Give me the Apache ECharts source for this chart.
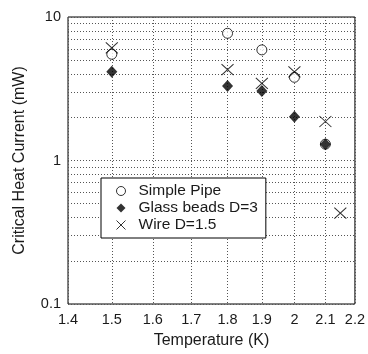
<!DOCTYPE html>
<html>
<head>
<meta charset="utf-8">
<script src="https://cdn.jsdelivr.net/npm/echarts@6/dist/echarts.min.js"></script>
<style>html,body{margin:0;padding:0;background:#fff}#c{width:368px;height:354px}</style>
</head>
<body>
<div id="c"></div>
<script>
// ---- data ----
var temperatures = [1.5, 1.8, 1.9, 2.0, 2.1];
var simplePipe = [5.5, 7.7, 5.9, 3.8, 1.3];
var glassBeads = [4.15, 3.3, 3.05, 2.02, 1.3];
var wireTemps = [1.5, 1.8, 1.9, 2.0, 2.1, 2.15];
var wire = [6.1, 4.3, 3.45, 4.15, 1.87, 0.43];
var xTicks = [1.4, 1.5, 1.6, 1.7, 1.8, 1.9, 2.0, 2.1, 2.2];
var yDecades = [0.1, 1, 10];
var yGrid = [0.1, 0.2, 0.3, 0.4, 0.5, 0.6, 0.7, 0.8, 0.9, 1, 2, 3, 4, 5, 6, 7, 8, 9, 10];
var seriesNames = ['Simple Pipe', 'Glass beads D=3', 'Wire D=1.5'];

var L = Math.log10;
function pts(xs, ys) { return xs.map(function (x, i) { return [L(x), L(ys[i])]; }); }
function fmt(v) { return String(Number(Math.pow(10, v).toPrecision(2))); }

var FONT = 'Liberation Sans, Arial, sans-serif';
var TXT = '#1a1a1a';
var gridLine = { show: true, lineStyle: { color: '#555', type: [1, 2], width: 1 } };

var chart = echarts.init(document.getElementById('c'), null, { renderer: 'canvas' });
chart.setOption({
  animation: false,
  backgroundColor: '#fff',
  textStyle: { fontFamily: FONT },
  grid: { left: 68, right: 11, top: 17, bottom: 49, show: true, borderColor: '#000', borderWidth: 1, backgroundColor: 'transparent' },
  xAxis: {
    type: 'value', min: L(xTicks[0]), max: L(xTicks[xTicks.length - 1]),
    name: 'Temperature (K)', nameLocation: 'middle', nameGap: 29,
    nameTextStyle: { fontSize: 16, color: TXT, fontFamily: FONT },
    axisLine: { show: false },
    axisTick: { show: false, customValues: xTicks.map(L) },
    axisLabel: { customValues: xTicks.map(L), formatter: fmt, fontSize: 14.5, color: TXT, margin: 8, fontFamily: FONT },
    splitLine: gridLine
  },
  yAxis: {
    type: 'value', min: L(yDecades[0]), max: L(yDecades[yDecades.length - 1]),
    name: 'Critical Heat Current (mW)', nameLocation: 'middle', nameGap: 40,
    nameTextStyle: { fontSize: 16, color: TXT, fontFamily: FONT },
    axisLine: { show: false },
    axisTick: { show: false, customValues: yGrid.map(L) },
    axisLabel: { customValues: yDecades.map(L), formatter: fmt, fontSize: 14.5, color: TXT, margin: 7, fontFamily: FONT },
    splitLine: gridLine
  },
  legend: {
    left: 101, top: 178, orient: 'vertical',
    data: seriesNames,
    backgroundColor: '#fff', borderColor: '#000', borderWidth: 1,
    padding: [5, 8, 5, 15], itemGap: 1, itemWidth: 9, itemHeight: 9,
    itemStyle: { borderWidth: 1 },
    textStyle: { fontSize: 15.5, color: TXT, fontFamily: FONT, lineHeight: 16, padding: [0, 0, 0, 8] }
  },
  series: [
    { name: seriesNames[0], type: 'scatter', data: pts(temperatures, simplePipe), symbol: 'circle', symbolSize: 10,
      itemStyle: { color: '#fff', borderColor: '#000', borderWidth: 1 } },
    { name: seriesNames[1], type: 'scatter', data: pts(temperatures, glassBeads), symbol: 'diamond', symbolSize: [11, 12],
      itemStyle: { color: '#000' } },
    { name: seriesNames[2], type: 'scatter', data: pts(wireTemps, wire), symbol: 'path://M0,0L10,10M10,0L0,10', symbolSize: [12, 11],
      itemStyle: { color: 'transparent', borderColor: '#000', borderWidth: 1 } }
  ]
});
</script>
</body>
</html>
